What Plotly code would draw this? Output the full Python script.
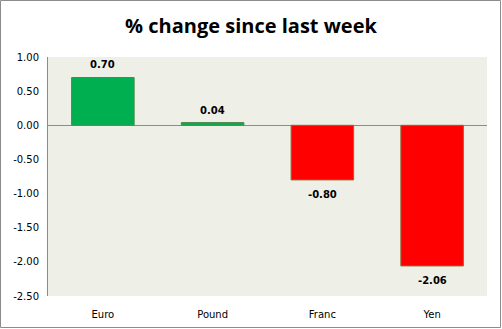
import plotly.graph_objects as go

categories = ["Euro", "Pound", "Franc", "Yen"]
values = [0.70, 0.04, -0.80, -2.06]
labels = ["0.70", "0.04", "-0.80", "-2.06"]
bar_colors = ["#00B050", "#00B050", "#FF0000", "#FF0000"]
outline_colors = ["#4E8A4E", "#4E8A4E", "#8B6B3D", "#8B6B3D"]
tick_vals = [1.0, 0.5, 0.0, -0.5, -1.0, -1.5, -2.0, -2.5]
tick_text = ["1.00", "0.50", "0.00", "-0.50", "-1.00", "-1.50", "-2.00", "-2.50"]

W, H = 502, 329
ml, mr, mt, mb = 48, 15, 57, 33
pw, ph = W - ml - mr, H - mt - mb

fig = go.Figure(go.Bar(
    x=categories, y=values,
    marker=dict(color=bar_colors, line=dict(color=outline_colors, width=1)),
    width=0.57,
))

annotations = []
for c, v, t in zip(categories, values, labels):
    annotations.append(dict(
        x=c, y=v, text="<b>%s</b>" % t, showarrow=False,
        yanchor="bottom" if v >= 0 else "top",
        yshift=5 if v >= 0 else -7,
        font=dict(family="DejaVu Sans", size=10, color="#000000"),
    ))

fig.update_layout(
    width=W, height=H,
    margin=dict(l=ml, r=mr, t=mt, b=mb),
    paper_bgcolor="white", plot_bgcolor="#EEF0E7",
    title=dict(text="<b>% change since last week</b>", x=0.5, xanchor="center",
               y=1 - 26 / H, yanchor="middle",
               font=dict(family="Open Sans", size=20, color="#000000")),
    showlegend=False,
    annotations=annotations,
    xaxis=dict(showgrid=False, showline=False, ticks="", zeroline=False,
               automargin=False,
               tickfont=dict(family="DejaVu Sans", size=10, color="#000000"),
               ticklabelstandoff=11),
    yaxis=dict(range=[-2.5, 1.0], tickvals=tick_vals, ticktext=tick_text,
               automargin=False,
               showgrid=False, showline=True, linecolor="#8C8C8C", linewidth=1,
               zeroline=True, zerolinecolor="#8C8C8C", zerolinewidth=1,
               ticks="", tickfont=dict(family="DejaVu Sans", size=10, color="#000000"),
               ticklabelstandoff=6),
    shapes=[dict(type="rect", xref="paper", yref="paper",
                 x0=-(ml - 0.5) / pw, x1=1 + (mr - 1.5) / pw,
                 y0=-(mb - 1.5) / ph, y1=1 + (mt - 0.5) / ph,
                 line=dict(color="#8C8C8C", width=1), layer="above")],
)

fig.write_html("out.html")
